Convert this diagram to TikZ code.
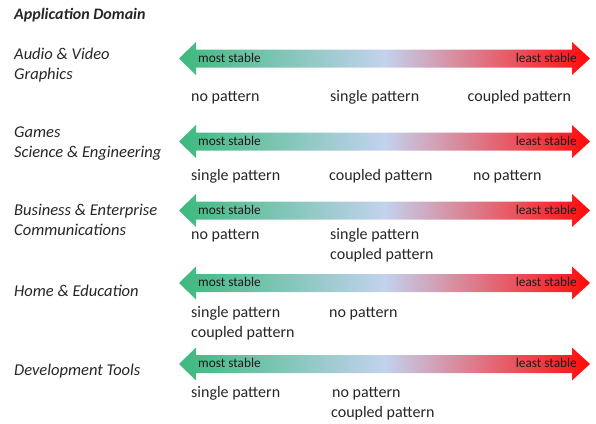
\documentclass[tikz,border=0pt]{standalone}
\usepackage{fontspec}
\setmainfont{Carlito}
\definecolor{sgreen}{RGB}{60,185,125}
\definecolor{sblue}{RGB}{195,210,238}
\definecolor{sred}{RGB}{255,10,10}
\definecolor{txt}{RGB}{38,38,38}
\definecolor{atxt}{RGB}{25,25,25}
\pgfdeclarehorizontalshading{stab}{100bp}{color(0bp)=(sgreen); color(25bp)=(sgreen); color(50bp)=(sblue); color(75bp)=(sred); color(100bp)=(sred)}
\tikzset{
  domlbl/.style={inner sep=0pt, anchor=base west, text=txt, font=\fontsize{16.5}{20}\selectfont\itshape},
  patlbl/.style={inner sep=0pt, anchor=base west, text=txt, font=\fontsize{16}{20}\selectfont},
  arrlbl/.style={inner sep=0pt, text=atxt, font=\fontsize{13.3}{16}\selectfont},
}
\newcommand\stabarrow[2]{%
\begin{scope}[yshift=-#1 pt]
\shade[shading=stab] (179pt,0) -- (196pt,16.5pt) -- (196pt,9pt) -- (572pt,9pt) -- (572pt,16.5pt) -- (590pt,0) -- (572pt,-16.5pt) -- (572pt,-9pt) -- (196pt,-9pt) -- (196pt,-16.5pt) -- cycle;
\node[arrlbl, anchor=base west] (#2m) at (198pt,-3.5pt) {most stable};
\node[arrlbl, anchor=base east] (#2l) at (577pt,-3.5pt) {least stable};
\end{scope}}
\begin{document}
\begin{tikzpicture}[x=1pt,y=1pt]
\useasboundingbox (0,0) rectangle (596,-423);
\node[inner sep=0pt, anchor=base west, text=txt, font=\fontsize{16}{20}\selectfont\bfseries\itshape] (title) at (14,-19) {Application Domain};
% row 1
\node[domlbl] (d1a) at (14,-59) {Audio \& Video};
\node[domlbl] (d1b) at (14,-79) {Graphics};
\stabarrow{58.5}{a1}
\node[patlbl] (p1a) at (191,-101) {no pattern};
\node[patlbl] (p1b) at (330,-101) {single pattern};
\node[patlbl] (p1c) at (467.5,-101) {coupled pattern};
% row 2
\node[domlbl] (d2a) at (14,-137) {Games};
\node[domlbl] (d2b) at (14,-157.5) {Science \& Engineering};
\stabarrow{141.5}{a2}
\node[patlbl] (p2a) at (191,-180.5) {single pattern};
\node[patlbl] (p2b) at (329,-180.5) {coupled pattern};
\node[patlbl] (p2c) at (473,-180.5) {no pattern};
% row 3
\node[domlbl] (d3a) at (14,-215.5) {Business \& Enterprise};
\node[domlbl] (d3b) at (14,-235.5) {Communications};
\stabarrow{210.5}{a3}
\node[patlbl] (p3a) at (191,-239.5) {no pattern};
\node[patlbl] (p3b) at (330,-239.5) {single pattern};
\node[patlbl] (p3c) at (330,-259.5) {coupled pattern};
% row 4
\node[domlbl] (d4a) at (14,-296) {Home \& Education};
\stabarrow{283}{a4}
\node[patlbl] (p4a) at (191,-317.5) {single pattern};
\node[patlbl] (p4b) at (191,-337.5) {coupled pattern};
\node[patlbl] (p4c) at (329,-317.5) {no pattern};
% row 5
\node[domlbl] (d5a) at (14,-375) {Development Tools};
\stabarrow{364}{a5}
\node[patlbl] (p5a) at (191,-397) {single pattern};
\node[patlbl] (p5b) at (332,-397) {no pattern};
\node[patlbl] (p5c) at (331,-417) {coupled pattern};
\end{tikzpicture}
\end{document}
